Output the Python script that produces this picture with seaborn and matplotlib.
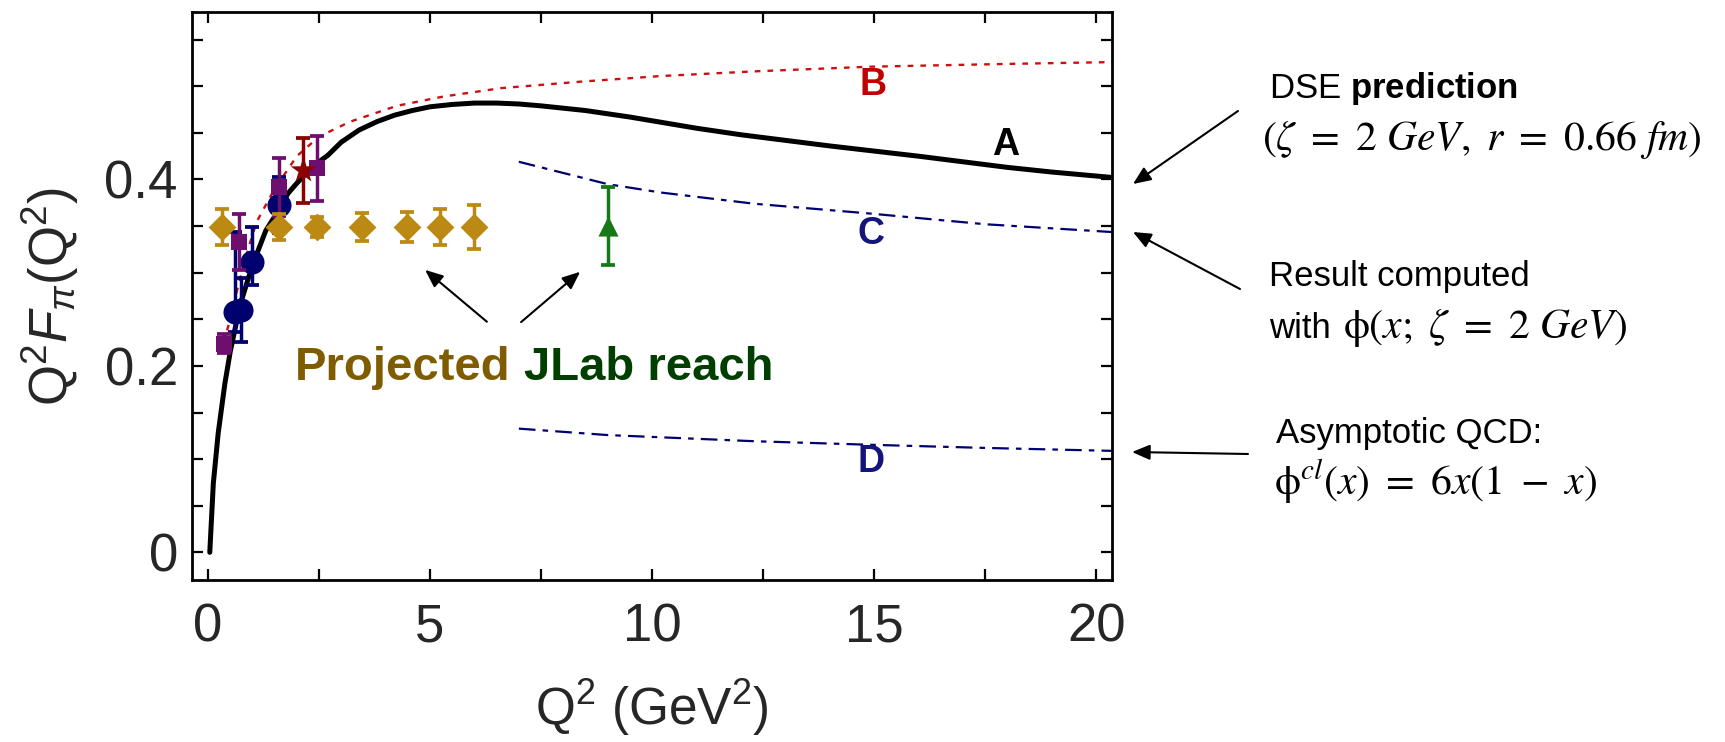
import numpy as np
import pandas as pd
import matplotlib
matplotlib.use("Agg")
import matplotlib.pyplot as plt
import seaborn as sns

# ---- theory curves: Q^2 F_pi(Q^2) versus Q^2 (GeV^2) ----
a_q2 = [0.04, 0.12, 0.23, 0.38, 0.5, 0.72, 1.0, 1.3, 1.55, 1.8, 2.0, 2.3, 2.5,
        2.7, 3.0, 3.4, 3.8, 4.2, 4.6, 5.0, 5.5, 6.0, 6.5, 7.0, 7.5, 8.0, 8.5,
        9.0, 9.5, 10.0, 11.0, 12.0, 13.0, 14.0, 15.0, 16.0, 17.0, 18.0, 19.0,
        20.4]
a_val = [0.0, 0.074, 0.128, 0.181, 0.215, 0.265, 0.308, 0.345, 0.364, 0.385,
         0.396, 0.411, 0.419, 0.426, 0.440, 0.453, 0.462, 0.469, 0.474, 0.478,
         0.4805, 0.482, 0.482, 0.481, 0.479, 0.4765, 0.474, 0.4705, 0.467,
         0.463, 0.455, 0.448, 0.442, 0.436, 0.4305, 0.425, 0.419, 0.413,
         0.408, 0.402]
b_q2 = [0.35, 0.5, 0.7, 0.9, 1.1, 1.5, 2.0, 2.5, 3.2, 4.25, 5.3, 6.6, 8.4, 10.2,
        12.3, 14.9, 18.0, 20.4]
b_val = [0.225, 0.25, 0.29, 0.325, 0.355, 0.39, 0.425, 0.446, 0.462, 0.479,
         0.489, 0.498, 0.505, 0.511, 0.516, 0.521, 0.524, 0.526]
c_q2 = [7.0, 9.0, 10.2, 12.3, 14.9, 17.5, 20.4]
c_val = [0.419, 0.395, 0.386, 0.374, 0.3635, 0.352, 0.3435]
d_q2 = [7.0, 9.0, 12.3, 14.9, 17.5, 20.4]
d_val = [0.1327, 0.1258, 0.1192, 0.1154, 0.112, 0.1088]

# ---- measurements ----
navy_q2 = [0.60, 0.75, 1.00, 1.60]
navy_val = [0.258, 0.260, 0.312, 0.373]
navy_err_lo = [0.022, 0.034, 0.025, 0.030]
navy_err_hi = [0.086, 0.034, 0.037, 0.030]

purple_q2 = [0.35, 0.70, 1.60, 2.45]
purple_val = [0.224, 0.333, 0.392, 0.412]
purple_err = [0.010, 0.030, 0.031, 0.035]

star_q2 = [2.15]
star_val = [0.410]
star_err = [0.035]

# ---- projected JLab reach ----
proj_q2 = [0.31, 1.60, 2.45, 3.46, 4.47, 5.23, 6.00]
proj_val = [0.349, 0.349, 0.349, 0.349, 0.349, 0.349, 0.349]
proj_err = [0.019, 0.014, 0.011, 0.015, 0.0165, 0.019, 0.024]

green_q2 = [9.0]
green_val = [0.350]
green_err = [0.042]

x_ticks = [0, 5, 10, 15, 20]
y_ticks = [0, 0.2, 0.4]
y_tick_labels = ["0", "0.2", "0.4"]

sns.set_theme(style="ticks")
plt.rcParams["font.family"] = ["Liberation Sans", "DejaVu Sans"]
plt.rcParams["mathtext.fontset"] = "custom"
plt.rcParams["mathtext.rm"] = "Liberation Sans"
plt.rcParams["mathtext.it"] = "Liberation Sans:italic"
plt.rcParams["mathtext.bf"] = "Liberation Sans:bold"

W, H = 1725, 742
fig = plt.figure(figsize=(W / 100, H / 100), dpi=100)
ax = fig.add_axes([191.7 / W, 1 - 580 / H, 920 / W, 568 / H])

GOLD = "#BC8A12"
NAVY = "#00006E"
PURPLE = "#6E0E6E"
DARKRED = "#8C0000"
RED = "#CC1010"
GREEN = "#167816"

# curves
sns.lineplot(x=a_q2, y=a_val, ax=ax, color="black", lw=3.6, sort=False,
             estimator=None, zorder=1)
sns.lineplot(x=b_q2, y=b_val, ax=ax, color=RED, lw=1.7, sort=False,
             estimator=None, zorder=1)
sns.lineplot(x=c_q2, y=c_val, ax=ax, color=NAVY, lw=1.6, sort=False,
             estimator=None, zorder=1)
sns.lineplot(x=d_q2, y=d_val, ax=ax, color=NAVY, lw=1.6, sort=False,
             estimator=None, zorder=1)
lines = ax.get_lines()
lines[1].set_dashes((2.4, 3.0))
lines[2].set_dashes((7.5, 3.2, 2.5, 3.2))
lines[3].set_dashes((7.5, 3.2, 2.5, 3.2))

eb = dict(fmt="none", elinewidth=2.5, capsize=5.2, capthick=2.7)

ax.errorbar(navy_q2, navy_val, yerr=[navy_err_lo, navy_err_hi], ecolor=NAVY,
            zorder=2, **eb)
sns.scatterplot(x=navy_q2, y=navy_val, ax=ax, marker="o", s=300, color=NAVY,
                linewidth=0, zorder=2.5)

ax.errorbar(purple_q2, purple_val, yerr=purple_err, ecolor=PURPLE, zorder=3, **eb)
sns.scatterplot(x=purple_q2, y=purple_val, ax=ax, marker="s", s=135,
                color=PURPLE, linewidth=0, zorder=3.5)

ax.errorbar(proj_q2, proj_val, yerr=proj_err, ecolor=GOLD, zorder=4, **eb)
sns.scatterplot(x=proj_q2, y=proj_val, ax=ax, marker="D", s=200, color=GOLD,
                linewidth=0, zorder=4.5)

ax.errorbar(star_q2, star_val, yerr=star_err, ecolor=DARKRED, zorder=5, **eb)
sns.scatterplot(x=star_q2, y=star_val, ax=ax, marker="*", s=380, color=DARKRED,
                linewidth=0, zorder=5.5)

ax.errorbar(green_q2, green_val, yerr=green_err, ecolor=GREEN, zorder=4, **eb)
sns.scatterplot(x=green_q2, y=green_val, ax=ax, marker="^", s=210, color=GREEN,
                linewidth=0, zorder=4.5)

# axes
ax.set_xlim(-0.367, 20.35)
ax.set_ylim(-0.0297, 0.5797)
ax.set_xticks(x_ticks)
ax.set_xticks([2.5, 7.5, 12.5, 17.5], minor=True)
ax.set_yticks(y_ticks)
ax.set_yticklabels(y_tick_labels)
ax.set_yticks([0.05, 0.1, 0.15, 0.25, 0.3, 0.35, 0.45, 0.5, 0.55], minor=True)
ax.tick_params(which="both", direction="in", length=8, width=1.6,
               top=True, right=True, color="black")
ax.tick_params(which="major", labelsize=38)
ax.tick_params(axis="y", which="major", pad=10)
ax.tick_params(axis="x", which="major", pad=16)
for sp in ax.spines.values():
    sp.set_linewidth(2.0)
    sp.set_color("black")

ax.set_xlabel(r"Q$^2$ (GeV$^2$)", fontsize=37)
ax.set_ylabel(r"Q$^2$$F_\pi$(Q$^2$)", fontsize=38)
ax.xaxis.set_label_coords(0.5, -0.172)
ax.yaxis.set_label_coords(-0.12, 0.5)

# curve labels
lab = dict(fontsize=27, fontweight="bold", ha="center", va="center")
ax.text(17.96, 0.4365, "A", color="black", **lab)
ax.text(14.97, 0.501, "B", color="#C00000", **lab)
ax.text(14.94, 0.3415, "C", color="#14147A", **lab)
ax.text(14.94, 0.097, "D", color="#14147A", **lab)

# projected reach caption and arrows
ax.text(1.96, 0.185, "Projected", color="#7F5C00", fontsize=34,
        fontweight="bold", ha="left", va="baseline")
ax.text(7.12, 0.185, "JLab reach", color="#003F00", fontsize=34,
        fontweight="bold", ha="left", va="baseline")
arrow = dict(arrowstyle="-|>,head_length=0.4,head_width=0.17",
             color="black", lw=1.5, mutation_scale=27, shrinkA=0, shrinkB=0)
ax.annotate("", xy=(4.89, 0.303), xytext=(6.28, 0.2474), arrowprops=arrow)
ax.annotate("", xy=(8.38, 0.301), xytext=(7.05, 0.247), arrowprops=arrow)

# right-hand notes
def fp(x, y):
    return (x, H - y)

for tail, head in [((1238, 111), (1133, 184)),
                   ((1240, 289), (1133, 232)),
                   ((1248, 454), (1132, 452))]:
    ax.annotate("", xy=fp(*head), xytext=fp(*tail), xycoords="figure pixels",
                textcoords="figure pixels", arrowprops=arrow,
                annotation_clip=False)

note = dict(fontsize=25, va="baseline", ha="left", color="black")
mnote = dict(fontsize=30, va="baseline", ha="left", color="black",
             math_fontfamily="stix")
fig.text(1269 / W, 1 - 98 / H, r"DSE $\mathbf{prediction}$", **note)
fig.text(1262 / W, 1 - 150 / H,
         r"$(\zeta\ =\ 2\ GeV,\ r\ =\ 0.66\ fm)$", **mnote)
fig.text(1269 / W, 1 - 286 / H, "Result computed", **note)
fig.text(1269 / W, 1 - 338 / H, "with", **note)
fig.text(1343 / W, 1 - 338 / H, r"$\mathrm{\phi}(x;\ \zeta\ =\ 2\ GeV)$",
         **mnote)
fig.text(1276 / W, 1 - 443 / H, "Asymptotic QCD:", **note)
fig.text(1274 / W, 1 - 495 / H,
         r"$\mathrm{\phi}^{cl}(x)\ =\ 6x(1\ -\ x)$", **mnote)

fig.savefig("out.png", dpi=100, facecolor="white")
